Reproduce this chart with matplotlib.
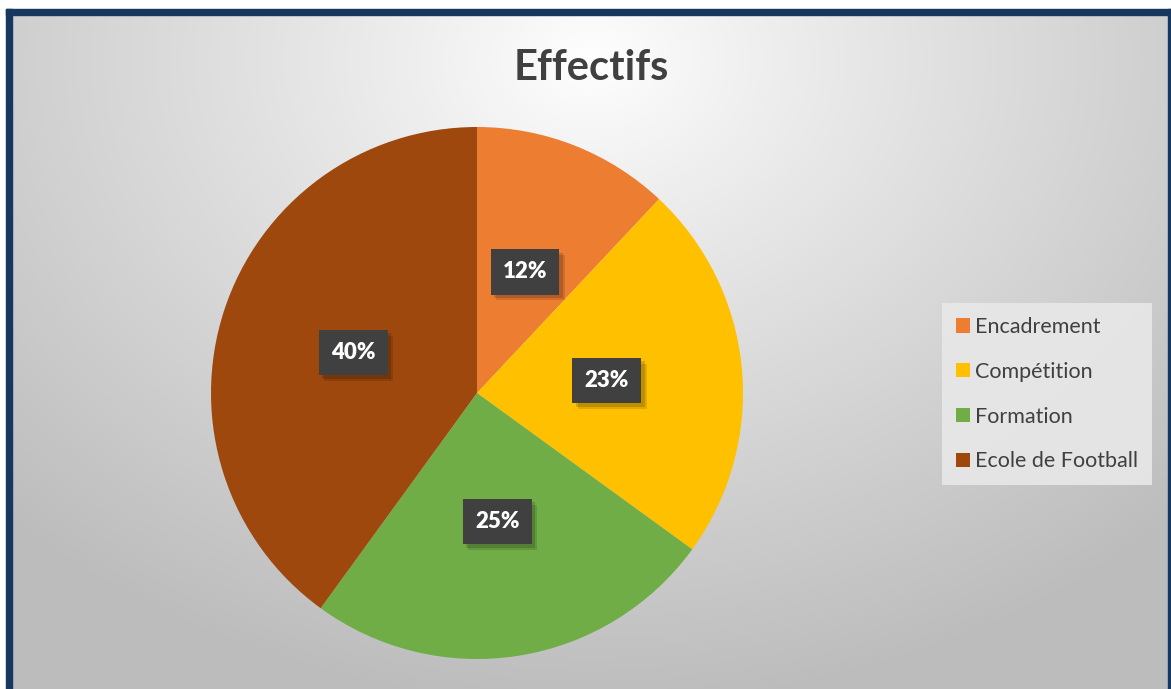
import numpy as np
import matplotlib.pyplot as plt
import matplotlib.patheffects as pe
from matplotlib.patches import Rectangle, Patch

# data
categories = ['Encadrement', 'Compétition', 'Formation', 'Ecole de Football']
shares = [12, 23, 25, 40]
colors = ['#ED7D31', '#FFC000', '#70AD47', '#9E480E']
title = 'Effectifs'

W, H = 1171, 689
plt.rcParams['font.family'] = ['Lato', 'DejaVu Sans']

fig = plt.figure(figsize=(W / 100, H / 100), dpi=100)

# background: radial grey gradient + navy frame
bg = fig.add_axes([0, 0, 1, 1])
bg.set_xlim(0, W)
bg.set_ylim(H, 0)
bg.axis('off')
yy, xx = np.mgrid[0:H, 0:W]
d = np.sqrt(((xx - 590) / 900.0) ** 2 + ((yy - 60) / 700.0) ** 2)
g = np.clip(1.0 - 0.28 * d ** 0.9, 0.74, 1.0)
bg.imshow(np.dstack([g, g, g]), extent=(0, W, H, 0), aspect='auto', zorder=0)
navy = '#17375E'
bg.add_patch(Rectangle((0, 0), W, 9, color='white', zorder=1))
bg.add_patch(Rectangle((0, 0), 6, H, color='white', zorder=1))
bg.add_patch(Rectangle((6, 9), W - 6, 6, color=navy, zorder=2))
bg.add_patch(Rectangle((6, 9), 6, H - 9, color=navy, zorder=2))
bg.add_patch(Rectangle((1168, 9), 3, H - 9, color=navy, zorder=2))

fig.text(591 / W, 1 - 68 / H, title, ha='center', va='center',
         fontsize=30, fontweight='bold', color='#404040')

# pie
cx, cy, r = 477, 393, 266
ax = fig.add_axes([(cx - r) / W, 1 - (cy + r) / H, 2 * r / W, 2 * r / H])
wedges, _ = ax.pie(shares, colors=colors, startangle=90, counterclock=False,
                   radius=1, wedgeprops=dict(linewidth=0))
ax.set_xlim(-1, 1)
ax.set_ylim(-1, 1)
ax.axis('off')

for w, v in zip(wedges, shares):
    ang = np.deg2rad((w.theta1 + w.theta2) / 2)
    x, y = 0.49 * np.cos(ang), 0.49 * np.sin(ang)
    t = ax.text(x, y, f'{v}%', ha='center', va='center', fontsize=16,
                fontweight='heavy', color='white',
                bbox=dict(boxstyle='square,pad=0.55', fc='#404040', ec='none'))
    t.get_bbox_patch().set_path_effects([
        pe.SimplePatchShadow(offset=(4, -4), shadow_rgbFace='black', alpha=0.12),
        pe.SimplePatchShadow(offset=(2.5, -2.5), shadow_rgbFace='black', alpha=0.15),
        pe.Normal()])

handles = [Patch(facecolor=c, edgecolor='none') for c in colors]
leg = fig.legend(handles, categories, loc='upper left',
                 bbox_to_anchor=(942 / W, 1 - 303 / H), frameon=True,
                 fontsize=15.5, labelspacing=1.15, handlelength=0.65,
                 handleheight=0.65, handletextpad=0.25, borderpad=0.65,
                 borderaxespad=0, fancybox=False, labelcolor='#404040')
leg.get_frame().set_facecolor('#E8E8E8')
leg.get_frame().set_edgecolor('none')
leg.get_frame().set_alpha(0.9)

fig.savefig('out.png', dpi=100)
